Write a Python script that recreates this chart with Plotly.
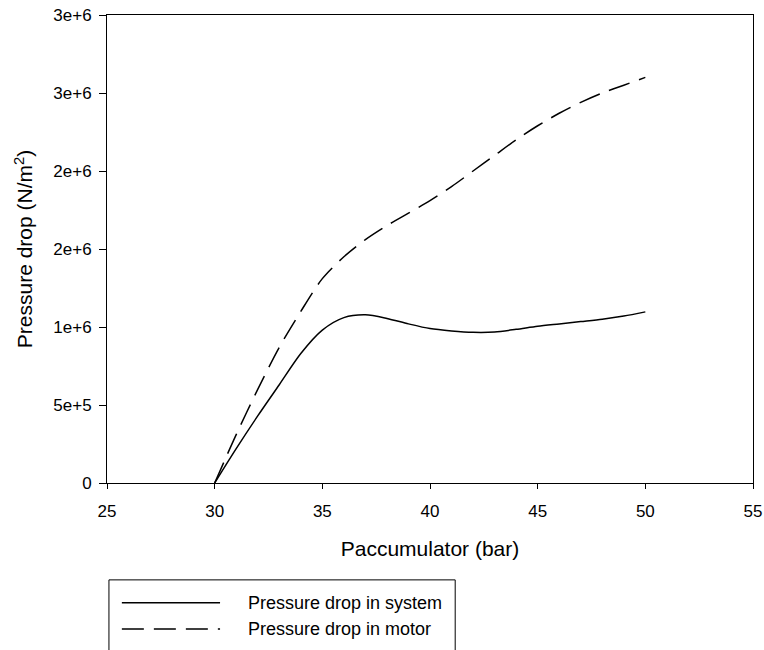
import plotly.graph_objects as go

# Data
p_acc = [30, 31, 32, 33, 34, 35, 36, 37, 38, 39, 40, 41, 42, 43, 44, 45, 46, 47, 48, 49, 50]
dp_system = [0, 0.22e6, 0.43e6, 0.63e6, 0.83e6, 0.98e6, 1.06e6, 1.078e6, 1.055e6, 1.02e6, 0.99e6,
             0.975e6, 0.966e6, 0.968e6, 0.985e6, 1.005e6, 1.02e6, 1.035e6, 1.05e6, 1.07e6, 1.097e6]
dp_motor = [0, 0.31e6, 0.6e6, 0.87e6, 1.1e6, 1.31e6, 1.45e6, 1.56e6, 1.65e6, 1.73e6, 1.81e6,
            1.9e6, 2.0e6, 2.1e6, 2.2e6, 2.29e6, 2.37e6, 2.44e6, 2.5e6, 2.55e6, 2.6e6]
y_tickvals = [0, 5e5, 1e6, 1.5e6, 2e6, 2.5e6, 3e6]
y_ticktext = ["0", "5e+5", "1e+6", "2e+6", "2e+6", "3e+6", "3e+6"]
x_tickvals = [25, 30, 35, 40, 45, 50, 55]
series_names = ["Pressure drop in system", "Pressure drop in motor"]

font_family = "Liberation Sans, Arial, sans-serif"

fig = go.Figure()
fig.add_trace(go.Scatter(x=p_acc, y=dp_system, mode="lines", name=series_names[0],
                         line=dict(color="black", width=1.5, shape="spline", smoothing=0.8)))
fig.add_trace(go.Scatter(x=p_acc, y=dp_motor, mode="lines", name=series_names[1],
                         line=dict(color="black", width=1.5, dash="22px,10px", shape="spline", smoothing=0.8)))

fig.update_layout(
    width=764, height=650,
    margin=dict(l=107, r=11, t=15, b=167, autoexpand=False),
    paper_bgcolor="white", plot_bgcolor="white",
    showlegend=False,
    font=dict(family=font_family, color="black", size=17),
)
fig.update_xaxes(
    range=[25, 55], tickvals=x_tickvals, ticks="outside", ticklen=5, tickwidth=1, tickcolor="black",
    showline=True, linecolor="black", linewidth=1, mirror=True, showgrid=False, zeroline=False,
    tickfont=dict(size=17), ticklabelstandoff=8, automargin=False, ticklabeloverflow="allow",
    title=dict(text="Paccumulator (bar)", font=dict(size=21), standoff=20),
)
fig.update_yaxes(
    range=[0, 3e6], tickvals=y_tickvals, ticktext=y_ticktext, ticks="outside", ticklen=7, tickwidth=1,
    tickcolor="black", showline=True, linecolor="black", linewidth=1, mirror=True, showgrid=False,
    zeroline=False, tickfont=dict(size=17), ticklabelstandoff=4, automargin=False,
    ticklabeloverflow="allow",
    title=dict(text="Pressure drop (N/m<sup>2</sup>)", font=dict(size=21), standoff=14),
)

# Custom legend box (mimicking the reference legend)
fig.add_shape(type="rect", xref="paper", yref="paper", x0=0.003, x1=0.539, y0=-0.40, y1=-0.207,
              line=dict(color="black", width=1), fillcolor="white")
fig.add_shape(type="line", xref="paper", yref="paper", x0=0.023, x1=0.175, y0=-0.256, y1=-0.256,
              line=dict(color="black", width=1.5))
fig.add_shape(type="line", xref="paper", yref="paper", x0=0.023, x1=0.175, y0=-0.312, y1=-0.312,
              line=dict(color="black", width=1.5, dash="22px,10px"))
for name, yy in zip(series_names, [-0.256, -0.312]):
    fig.add_annotation(text=name, xref="paper", yref="paper", x=0.215, y=yy, xanchor="left",
                       yanchor="middle", showarrow=False, font=dict(size=18))

fig.write_html("out.html", config={"displayModeBar": False},
               post_script="document.body.style.margin='0';document.body.style.overflow='hidden';")
